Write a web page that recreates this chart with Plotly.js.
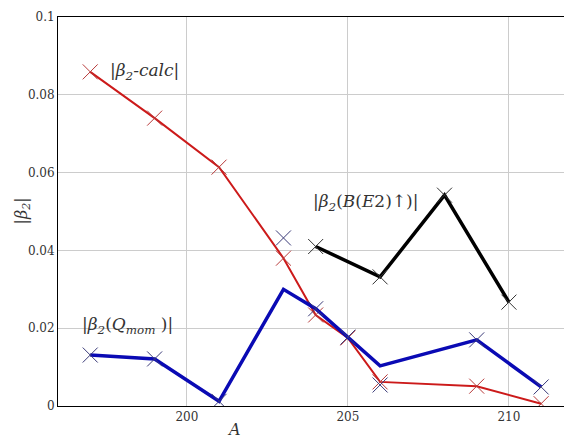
<!DOCTYPE html>
<html>
<head>
<meta charset="utf-8">
<script src="https://cdn.plot.ly/plotly-3.0.1.min.js"></script>
<style>html,body{margin:0;padding:0;overflow:hidden;background:#fff}</style>
</head>
<body>
<div id="chart"></div>
<script>
// Mass numbers
const A_all = [197, 199, 201, 203, 204, 205, 206, 209, 211];
// |beta2 - calc|
const calcVals = [0.0859, 0.074, 0.0614, 0.038, 0.0234, 0.0175, 0.0062, 0.0051, 0.0006];
// |beta2(Q_mom)| line
const qmomLine = [0.0131, 0.0121, 0.0012, 0.0300, 0.0250, 0.0177, 0.0103, 0.0170, 0.0049];
// |beta2(Q_mom)| markers
const qmomMarks = [0.0131, 0.0121, 0.0012, 0.0432, 0.0250, 0.0177, 0.0054, 0.0170, 0.0049];
// |beta2(B(E2)up)|
const A_be2 = [204, 206, 208, 210];
const be2Vals = [0.0410, 0.0332, 0.0542, 0.0267];
// Axis ticks
const xTicks = [200, 205, 210];
const yTicks = [0, 0.02, 0.04, 0.06, 0.08, 0.1];

const serif = "DejaVu Serif";

const traces = [
  {x: A_all, y: calcVals, mode: 'lines+markers', line: {color: '#cc1a1a', width: 2},
   marker: {symbol: 'x-thin', size: 15, line: {color: '#b83a3a', width: 1}}, hoverinfo: 'skip'},
  {x: A_all, y: qmomLine, mode: 'lines', line: {color: '#0a0ab4', width: 3.5}, hoverinfo: 'skip'},
  {x: A_all, y: qmomMarks, mode: 'markers',
   marker: {symbol: 'x-thin', size: 15, line: {color: '#3a3a78', width: 1}}, hoverinfo: 'skip'},
  {x: A_be2, y: be2Vals, mode: 'lines+markers', line: {color: '#000000', width: 3.5},
   marker: {symbol: 'x-thin', size: 15, line: {color: '#333333', width: 1}}, hoverinfo: 'skip'}
];

const layout = {
  width: 564, height: 439,
  margin: {l: 58, r: 0, t: 17, b: 33},
  paper_bgcolor: '#ffffff', plot_bgcolor: '#ffffff',
  showlegend: false,
  font: {family: serif, size: 12, color: '#333333'},
  xaxis: {range: [196, 211.71], tickvals: xTicks, showgrid: true, gridcolor: '#cccccc', gridwidth: 1,
          zeroline: false, showline: true, linecolor: '#000000', linewidth: 1, mirror: true, ticks: '',
          tickfont: {family: serif, size: 12, color: '#333333'}},
  yaxis: {range: [0, 0.1], tickvals: yTicks, showgrid: true, gridcolor: '#cccccc', gridwidth: 1,
          zeroline: false, showline: true, linecolor: '#000000', linewidth: 1, ticks: '',
          tickfont: {family: serif, size: 12, color: '#333333'}},
  annotations: [
    {x: 0, y: 0.5, xref: 'paper', yref: 'paper', xshift: -36, xanchor: 'center', yanchor: 'middle', textangle: -90,
     showarrow: false, text: '|<i>β<sub>2</sub></i>|', font: {family: serif, size: 16, color: '#333333'}},
    {x: 197.55, y: 0.0859, xref: 'x', yref: 'y', xanchor: 'left', yanchor: 'middle', showarrow: false,
     text: '|<i>β<sub>2</sub>-calc</i>|', font: {family: serif, size: 17, color: '#333333'}},
    {x: 203.86, y: 0.0522, xref: 'x', yref: 'y', xanchor: 'left', yanchor: 'middle', showarrow: false,
     text: '|<i>β<sub>2</sub></i>(<i>B</i>(<i>E</i>2)↑)|', font: {family: serif, size: 17, color: '#333333'}},
    {x: 196.68, y: 0.0206, xref: 'x', yref: 'y', xanchor: 'left', yanchor: 'middle', showarrow: false,
     text: '|<i>β<sub>2</sub></i>(<i>Q<sub>mom</sub></i> )|', font: {family: serif, size: 17, color: '#333333'}},
    {x: 201.47, y: 0, xref: 'x', yref: 'paper', xanchor: 'center', yanchor: 'middle', yshift: -23, showarrow: false,
     text: '<i>A</i>', font: {family: serif, size: 16, color: '#333333'}}
  ]
};

Plotly.newPlot('chart', traces, layout, {staticPlot: true, displayModeBar: false});
</script>
</body>
</html>
